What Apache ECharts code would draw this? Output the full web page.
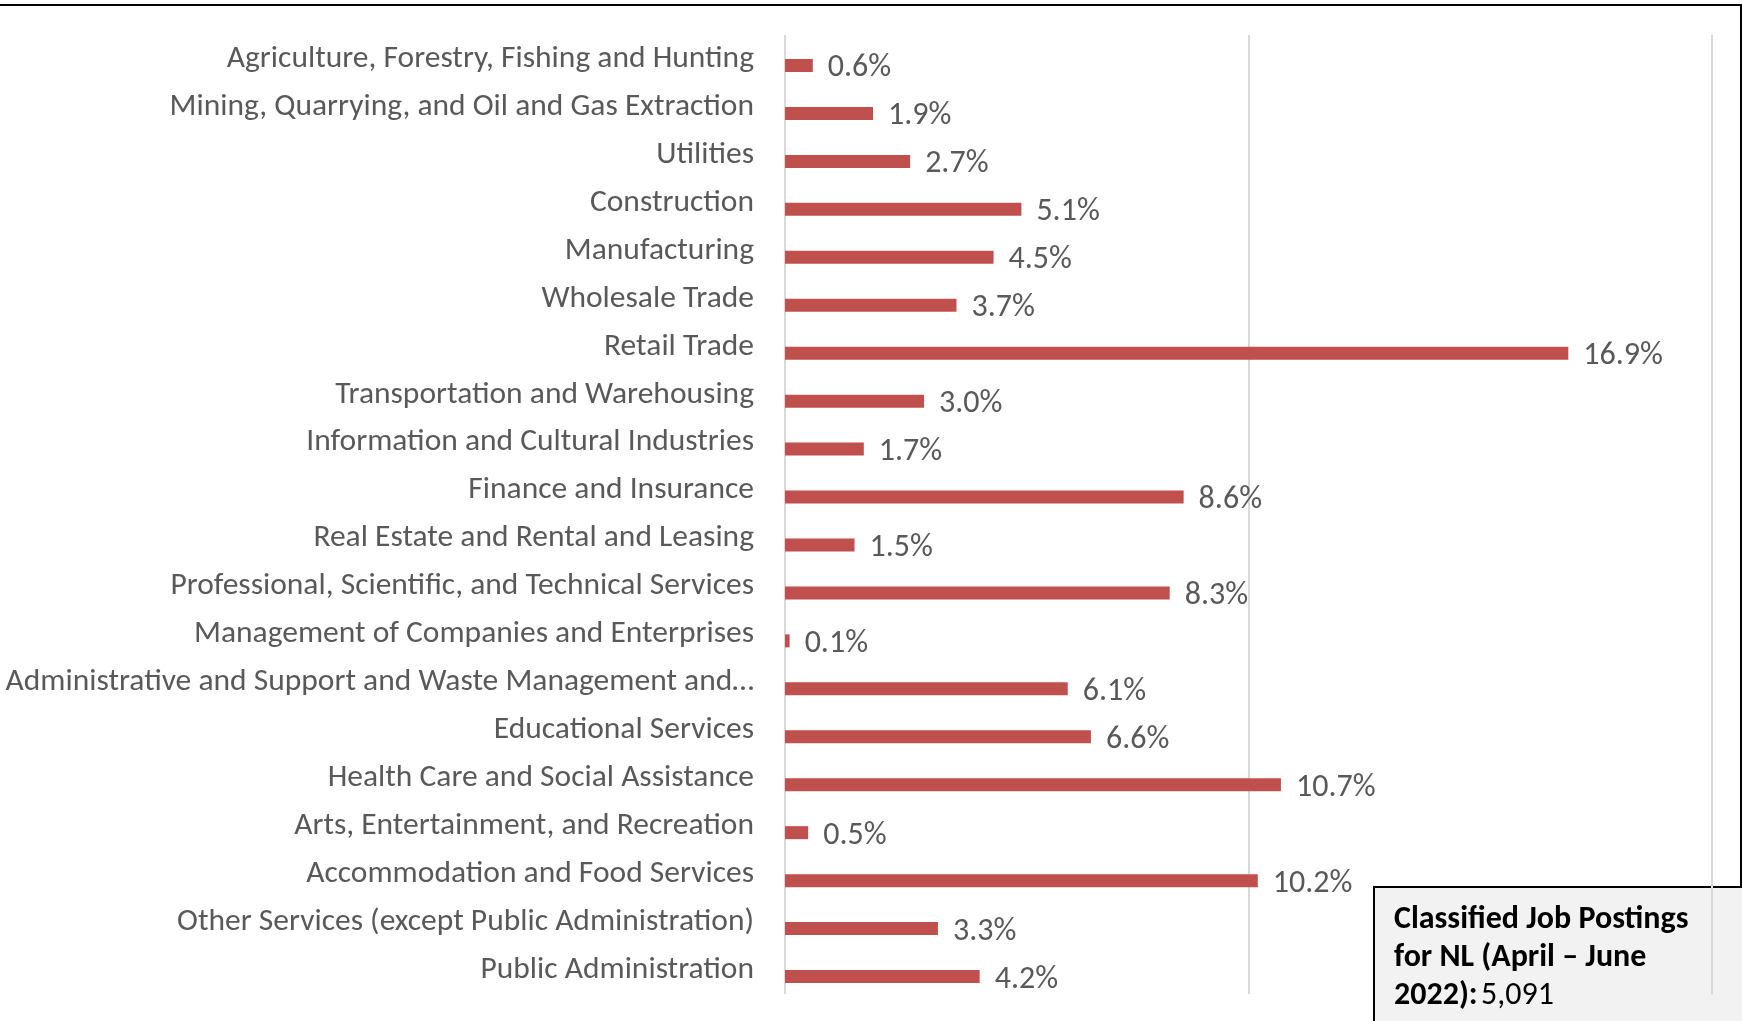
<!DOCTYPE html>
<html>
<head>
<meta charset="utf-8">
<script src="https://cdn.jsdelivr.net/npm/echarts@6/dist/echarts.min.js"></script>
<style>
html,body{margin:0;padding:0;background:#fff;}
#chart{width:1742px;height:1021px;}
</style>
</head>
<body>
<div id="chart"></div>
<script>
const categories = [
  "Agriculture, Forestry, Fishing and Hunting",
  "Mining, Quarrying, and Oil and Gas Extraction",
  "Utilities",
  "Construction",
  "Manufacturing",
  "Wholesale Trade",
  "Retail Trade",
  "Transportation and Warehousing",
  "Information and Cultural Industries",
  "Finance and Insurance",
  "Real Estate and Rental and Leasing",
  "Professional, Scientific, and Technical Services",
  "Management of Companies and Enterprises",
  "Administrative and Support and Waste Management and…",
  "Educational Services",
  "Health Care and Social Assistance",
  "Arts, Entertainment, and Recreation",
  "Accommodation and Food Services",
  "Other Services (except Public Administration)",
  "Public Administration"
];
const shares = [0.6, 1.9, 2.7, 5.1, 4.5, 3.7, 16.9, 3.0, 1.7, 8.6, 1.5, 8.3, 0.1, 6.1, 6.6, 10.7, 0.5, 10.2, 3.3, 4.2];
const xTicks = [0, 10, 20];
const boxTitleLines = ["Classified Job Postings", "for NL (April – June", "2022):"];
const boxValue = "5,091";

const FONT = "Carlito, Calibri, Lato, sans-serif";
const chart = echarts.init(document.getElementById('chart'));
chart.setOption({
  animation: false,
  backgroundColor: '#ffffff',
  grid: { left: 785, right: 30, top: 35, bottom: 27, containLabel: false, outerBoundsMode: 'none' },
  xAxis: {
    type: 'value', min: xTicks[0], max: xTicks[xTicks.length - 1], interval: 10,
    axisLabel: { show: false }, axisLine: { show: false }, axisTick: { show: false },
    splitLine: { show: true, lineStyle: { color: '#d9d9d9', width: 2 } }
  },
  yAxis: {
    type: 'category', inverse: true, data: categories,
    axisLine: { show: false }, axisTick: { show: false },
    axisLabel: { margin: 31, fontSize: 31.5, color: '#595959', fontFamily: FONT }
  },
  series: [
    { type: 'bar', data: categories.map(() => null), barWidth: 13, barGap: '0%', silent: true },
    {
      type: 'bar', data: shares, barWidth: 13,
      itemStyle: { color: '#c0504d' },
      label: {
        show: true, position: 'right', distance: 15, offset: [0, 3],
        fontSize: 32, color: '#595959', fontFamily: FONT,
        formatter: p => p.value.toFixed(1) + '%'
      }
    }
  ],
  graphic: [
    { type: 'line', shape: { x1: 0, y1: 5, x2: 1742, y2: 5 }, style: { stroke: '#000', lineWidth: 2 } },
    { type: 'line', shape: { x1: 1741, y1: 5, x2: 1741, y2: 1021 }, style: { stroke: '#000', lineWidth: 2 } },
    { type: 'rect', shape: { x: 1374, y: 887, width: 400, height: 200 }, style: { fill: '#f2f2f2', stroke: '#000', lineWidth: 2 } },
    {
      type: 'text', left: 1394, top: 904,
      style: {
        text: '{b|' + boxTitleLines[0] + '}\n{b|' + boxTitleLines[1] + '}\n{b|' + boxTitleLines[2] + '} {n|' + boxValue + '}',
        rich: {
          b: { fontSize: 32, fontWeight: 'bold', fontFamily: FONT, fill: '#000', lineHeight: 38 },
          n: { fontSize: 32, fontFamily: FONT, fill: '#000', lineHeight: 38 }
        }
      }
    }
  ]
});
</script>
</body>
</html>
